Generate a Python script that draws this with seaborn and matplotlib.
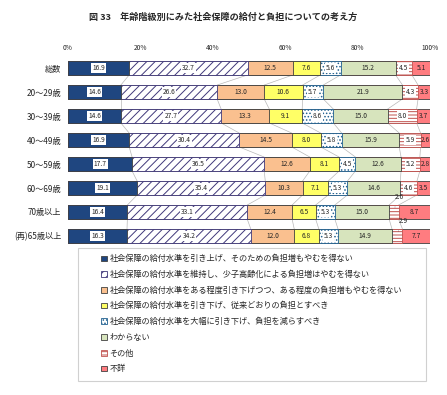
import numpy as np
import pandas as pd
import matplotlib
matplotlib.use('Agg')
import matplotlib.pyplot as plt
import seaborn as sns
from matplotlib.patches import Patch, Rectangle

sns.set_style('white')
plt.rcParams['font.family'] = ['Noto Sans CJK JP', 'DejaVu Sans']
plt.rcParams['hatch.linewidth'] = 0.7

## データ
groups = ['総数', '20～29歳', '30～39歳', '40～49歳', '50～59歳', '60～69歳', '70歳以上', '(再)65歳以上']
answers = [
    '社会保障の給付水準を引き上げ、そのための負担増もやむを得ない',
    '社会保障の給付水準を維持し、少子高齢化による負担増はやむを得ない',
    '社会保障の給付水準をある程度引き下げつつ、ある程度の負担増もやむを得ない',
    '社会保障の給付水準を引き下げ、従来どおりの負担とすべき',
    '社会保障の給付水準を大幅に引き下げ、負担を減らすべき',
    'わからない',
    'その他',
    '不詳',
]
v_up      = [16.9, 14.6, 14.6, 16.9, 17.7, 19.1, 16.4, 16.3]
v_keep    = [32.7, 26.6, 27.7, 30.4, 36.5, 35.4, 33.1, 34.2]
v_some    = [12.5, 13.0, 13.3, 14.5, 12.6, 10.3, 12.4, 12.0]
v_down    = [7.6, 10.6, 9.1, 8.0, 8.1, 7.1, 6.5, 6.8]
v_bigdown = [5.6, 5.7, 8.6, 5.8, 4.5, 5.3, 5.3, 5.3]
v_dk      = [15.2, 21.9, 15.0, 15.9, 12.6, 14.6, 15.0, 14.9]
v_other   = [4.5, 4.3, 8.0, 5.9, 5.2, 4.6, 2.6, 2.9]
v_na      = [5.1, 3.3, 3.7, 2.6, 2.8, 3.5, 8.7, 7.7]
xticks = [0, 20, 40, 60, 80, 100]

series = [v_up, v_keep, v_some, v_down, v_bigdown, v_dk, v_other, v_na]
df = pd.DataFrame(np.array(series).T, columns=answers)
df.insert(0, 'group', groups)
vals = df[answers].to_numpy()
cum = vals.cumsum(axis=1)

# 見た目
faces = ['#1f4680', 'white', '#fac08f', '#ffff66', 'white', '#d7e4bd', 'white', '#ff7c80']
edges = ['#404040', '#40387a', '#404040', '#404040', '#1f5f8f', '#404040', '#c0504d', '#404040']
hatches = [None, '////', None, None, '.....', None, '-----', None]
boxed = [True, True, False, False, True, False, True, False]

fig = plt.figure(figsize=(4.47, 3.95), dpi=100)
ax = fig.add_axes([68/447, 1-248/395, 362/447, 192/395])
bw = 0.58

# 積み上げ（右端から順に重ねる）
for k in range(len(answers)-1, -1, -1):
    sns.barplot(x=cum[:, k], y=groups, orient='h', color=faces[k], width=bw,
                edgecolor=edges[k], linewidth=0.6, hatch=hatches[k],
                saturation=1, ax=ax)
    for p in ax.patches[-len(groups):]:
        p.set_facecolor(faces[k])

# 系列線
for i in range(len(groups)-1):
    for k in range(len(answers)-1):
        ax.plot([cum[i, k], cum[i+1, k]], [i+bw/2, i+1-bw/2], color='#b8b8b8', lw=0.5, zorder=0.5)

# ラベル
for i in range(len(groups)):
    for k in range(len(answers)):
        v = vals[i, k]
        mid = cum[i, k] - v/2
        if k == 6 and v < 3.5:
            ax.annotate(f'{v:.1f}', xy=(mid, i-0.1), xytext=(mid+1.6, i-0.62),
                        fontsize=4.8, ha='center', va='center',
                        arrowprops=dict(arrowstyle='-', color='#404040', lw=0.5))
            continue
        bb = dict(boxstyle='square,pad=0.15', fc='white', ec='none') if boxed[k] else None
        ax.text(mid, i, f'{v:.1f}', fontsize=4.8, ha='center', va='center', bbox=bb)

ax.set_xlim(0, 100)
ax.set_ylim(len(groups)-0.5, -0.5)
ax.set_xticks(xticks)
ax.set_xticklabels([f'{t}%' for t in xticks], fontsize=4.8)
ax.xaxis.tick_top()
ax.tick_params(axis='x', length=0, pad=3)
ax.tick_params(axis='y', length=0, labelsize=5.9, pad=5)
ax.set_xlabel('')
ax.set_ylabel('')
for s in ax.spines.values():
    s.set_visible(False)

fig.text(223/447, 1-17/395, '図 33　年齢階級別にみた社会保障の給付と負担についての考え方',
         ha='center', va='center', fontsize=6.55, fontweight='bold')

# 凡例
fig.patches.append(Rectangle((78/447, 1-381/395), 348/447, 133/395, transform=fig.transFigure,
                             fill=False, ec='#d0d0d0', lw=0.8))
handles = [Patch(facecolor=faces[k], edgecolor=edges[k], hatch=hatches[k], lw=0.6) for k in range(len(answers))]
fig.legend(handles, answers, loc='upper left', bbox_to_anchor=(98/447, 1-251/395),
           frameon=False, fontsize=5.9, handlelength=0.7, handleheight=0.7,
           handletextpad=0.3, labelspacing=0.82, borderaxespad=0)

fig.savefig('out.png', dpi=100)
